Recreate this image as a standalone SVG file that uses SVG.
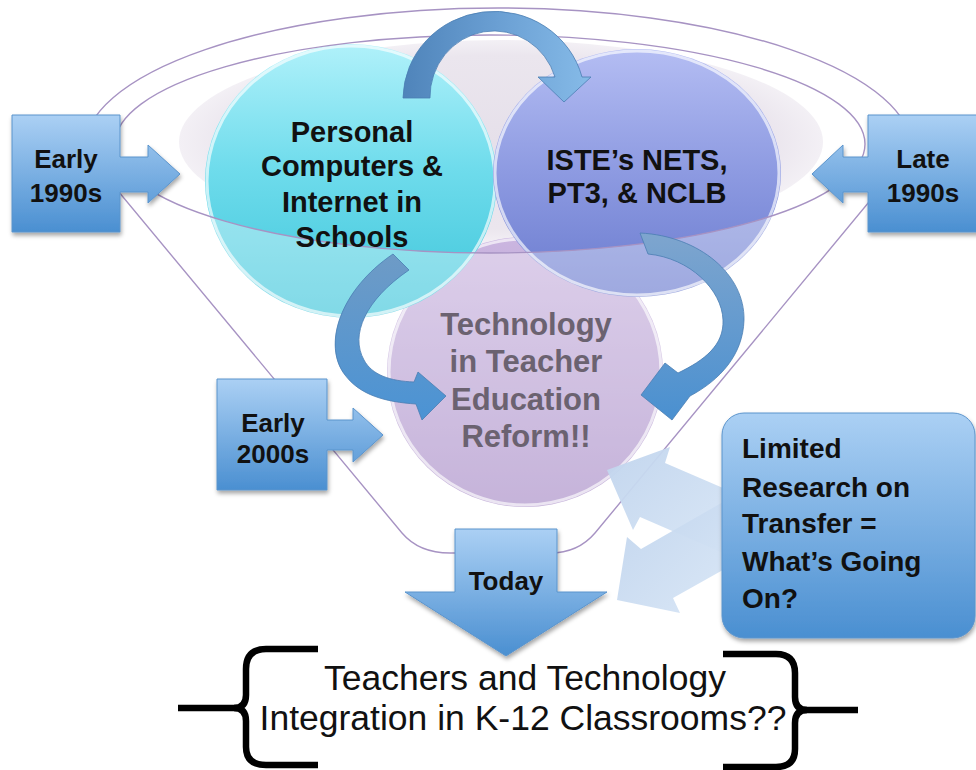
<svg xmlns="http://www.w3.org/2000/svg" width="976" height="770" viewBox="0 0 976 770">
  <defs>
    <style>
      .lbl { font-family: "Liberation Sans", Arial, sans-serif; font-weight: bold; fill: #111; }
      .box { font-size: 26px; text-anchor: middle; }
      .circ { font-size: 29px; text-anchor: middle; }
      .tech { font-size: 31px; text-anchor: middle; fill: #6b6270; }
      .lim { font-size: 28px; }
      .bottom { font-family: "Liberation Sans", Arial, sans-serif; font-size: 35.5px; fill: #111; text-anchor: middle; }
      .funnel { fill: none; stroke: #a793c3; stroke-width: 1.4; }
      .rim { fill: none; stroke: #fff; stroke-opacity: 0.65; stroke-width: 3; }
      .callout { fill: url(#boxGrad); stroke: #5b94cc; stroke-width: 1; filter: url(#shadow); }
      .brace { fill: none; stroke: #000; stroke-width: 6.5; }
    </style>
    <linearGradient id="boxGrad" x1="0" y1="0" x2="0" y2="1">
      <stop offset="0" stop-color="#abd0f4"/>
      <stop offset="1" stop-color="#4a8fd1"/>
    </linearGradient>
    <linearGradient id="cyanGrad" x1="0" y1="0" x2="0" y2="1">
      <stop offset="0" stop-color="#b0f1fa"/>
      <stop offset="0.45" stop-color="#6fdcec"/>
      <stop offset="1" stop-color="#3dc5da"/>
    </linearGradient>
    <linearGradient id="isteGrad" x1="0" y1="0" x2="0" y2="1">
      <stop offset="0" stop-color="#b4bdf3"/>
      <stop offset="0.5" stop-color="#8d9ae1"/>
      <stop offset="1" stop-color="#6a7bcf"/>
    </linearGradient>
    <linearGradient id="techGrad" x1="0" y1="0" x2="0" y2="1">
      <stop offset="0" stop-color="#cbb6e0"/>
      <stop offset="1" stop-color="#a78bc6"/>
    </linearGradient>
    <radialGradient id="innerGrad" cx="0.5" cy="0.5" r="0.5">
      <stop offset="0" stop-color="#e6e0ea"/>
      <stop offset="0.85" stop-color="#ebe6ee"/>
      <stop offset="1" stop-color="#f3f0f5"/>
    </radialGradient>
    <linearGradient id="arcGrad" x1="0" y1="0" x2="1" y2="0">
      <stop offset="0" stop-color="#4f84ba"/>
      <stop offset="0.5" stop-color="#6a9fd3"/>
      <stop offset="1" stop-color="#86bbe8"/>
    </linearGradient>
    <linearGradient id="leftArcGrad" x1="0" y1="0" x2="0" y2="1">
      <stop offset="0" stop-color="#6e9bc6"/>
      <stop offset="1" stop-color="#4b93d4"/>
    </linearGradient>
    <linearGradient id="rightArcGrad" x1="0" y1="0" x2="0" y2="1">
      <stop offset="0" stop-color="#7ea5ce"/>
      <stop offset="1" stop-color="#4a90d0"/>
    </linearGradient>
    <linearGradient id="paleGrad" x1="0" y1="0" x2="1" y2="1">
      <stop offset="0" stop-color="#c0d4ed"/>
      <stop offset="1" stop-color="#d8e6f6"/>
    </linearGradient>
    <filter id="shadow" x="-10%" y="-10%" width="130%" height="130%">
      <feDropShadow dx="1" dy="3" stdDeviation="2" flood-color="#000" flood-opacity="0.35"/>
    </filter>
  </defs>

  <rect width="976" height="770" fill="#fff"/>

  <!-- funnel mouth interior -->
  <ellipse cx="501" cy="142" rx="322" ry="102" fill="url(#innerGrad)"/>

  <!-- the three stages -->
  <g id="node-tech-reform">
    <ellipse cx="525" cy="372" rx="138" ry="135" fill="url(#techGrad)"/>
    <ellipse cx="525" cy="372" rx="136" ry="133" class="rim"/>
  </g>
  <g id="node-computers">
    <ellipse cx="351" cy="181" rx="146" ry="137" fill="url(#cyanGrad)"/>
    <ellipse cx="351" cy="181" rx="144" ry="135" class="rim"/>
  </g>
  <g id="node-iste">
    <ellipse cx="637" cy="173" rx="144" ry="124" fill="url(#isteGrad)"/>
    <ellipse cx="637" cy="173" rx="142" ry="122" class="rim"/>
  </g>

  <!-- glassy funnel body below the rim -->
  <path d="M84,150 A414 142 0 0 1 912,150 L595,533 Q578,553 550,553 L450,553 Q419,553 402,533 Z M115,144 A375 109 0 0 0 865,144 A375 109 0 0 0 115,144 Z" fill="#fff" fill-opacity="0.35" fill-rule="evenodd"/>

  <!-- funnel outline -->
  <g id="funnel">
    <path class="funnel" d="M84,150 A414 142 0 0 1 912,150 L595,533 Q578,553 550,553 L450,553 Q419,553 402,533 Z"/>
    <ellipse class="funnel" cx="490" cy="144" rx="375" ry="109"/>
  </g>

  <!-- connectors -->
  <g id="connectors">
    <path d="M403,98 A91 88 0 0 1 582,77 L591,77 L564,102 L538,77 L555,77 A64 66 0 0 0 430,98 Z" fill="url(#arcGrad)" stroke="#4a7db2" stroke-width="0.8"/>
    <path d="M393,254 C340,290 322,345 345,375 C360,395 385,402 416,404 L422,420 L446,396 L418,372 L414,382 C390,381 372,375 364,360 C350,335 365,300 409,270 Z" fill="url(#leftArcGrad)" stroke="#4a7db2" stroke-width="0.8"/>
    <path d="M640,233 C700,236 745,275 744,320 C743,355 720,380 690,396 L672,420 L641,395 L665,363 L678,373 C705,360 724,345 723,320 C722,290 690,258 648,254 Z" fill="url(#rightArcGrad)" stroke="#4a7db2" stroke-width="0.8"/>
    <polygon points="607,470 670,447 665,463 730,491 730,556 640,517 633,530" fill="url(#paleGrad)" opacity="0.95"/>
    <polygon points="617,600 627,537 641,549 730,498 730,566 673,598 680,613" fill="url(#paleGrad)" opacity="0.95"/>
  </g>

  <g id="label-computers">
    <text class="lbl circ" x="352" y="142">Personal</text>
    <text class="lbl circ" x="352" y="176">Computers &amp;</text>
    <text class="lbl circ" x="352" y="212">Internet in</text>
    <text class="lbl circ" x="352" y="247">Schools</text>
  </g>
  <g id="label-iste">
    <text class="lbl circ" x="637" y="170">ISTE’s NETS,</text>
    <text class="lbl circ" x="637" y="203">PT3, &amp; NCLB</text>
  </g>
  <g id="label-tech">
    <text class="lbl tech" x="526" y="335">Technology</text>
    <text class="lbl tech" x="526" y="372">in Teacher</text>
    <text class="lbl tech" x="526" y="410">Education</text>
    <text class="lbl tech" x="526" y="447">Reform!!</text>
  </g>

  <g id="node-early-1990s">
    <path class="callout" d="M12,115 H120 V157 H148 V145 L180,174 L148,203 V192 H120 V232 H12 Z"/>
    <text class="lbl box" x="66" y="168">Early</text>
    <text class="lbl box" x="66" y="202">1990s</text>
  </g>
  <g id="node-late-1990s">
    <path class="callout" d="M980,115 H868 V157 H843 V145 L812,174 L843,203 V192 H868 V232 H980 Z"/>
    <text class="lbl box" x="923" y="168">Late</text>
    <text class="lbl box" x="923" y="202">1990s</text>
  </g>
  <g id="node-early-2000s">
    <path class="callout" d="M217,379 H327 V420 H353 V408 L383,435 L353,462 V450 H327 V490 H217 Z"/>
    <text class="lbl box" x="273" y="432">Early</text>
    <text class="lbl box" x="273" y="463">2000s</text>
  </g>
  <g id="node-today">
    <path class="callout" d="M455,529 H557 V592 H607 L506,656 L405,592 H455 Z"/>
    <text class="lbl box" x="506" y="590">Today</text>
  </g>

  <g id="node-limited-research">
    <rect x="722" y="413" width="253" height="225" rx="22" fill="url(#boxGrad)" stroke="#5b94cc" stroke-width="1" filter="url(#shadow)"/>
    <text class="lbl lim" x="742" y="458">Limited</text>
    <text class="lbl lim" x="742" y="497">Research on</text>
    <text class="lbl lim" x="742" y="533">Transfer =</text>
    <text class="lbl lim" x="742" y="571">What’s Going</text>
    <text class="lbl lim" x="742" y="608">On?</text>
  </g>

  <g id="node-outcome">
    <path class="brace" d="M318,649 H266 Q246,649 246,669 V695 Q246,708 234,708 Q246,708 246,721 V747 Q246,765 266,765 H318"/>
    <path class="brace" d="M178,708 H240" stroke-width="7"/>
    <path class="brace" d="M723,654 H776 Q795,654 795,673 V697 Q795,710 807,710 Q795,710 795,723 V749 Q795,767 776,767 H723"/>
    <path class="brace" d="M801,710 H858" stroke-width="7"/>
    <text class="bottom" x="525" y="690">Teachers and Technology</text>
    <text class="bottom" x="523" y="730">Integration in K-12 Classrooms??</text>
  </g>
</svg>
